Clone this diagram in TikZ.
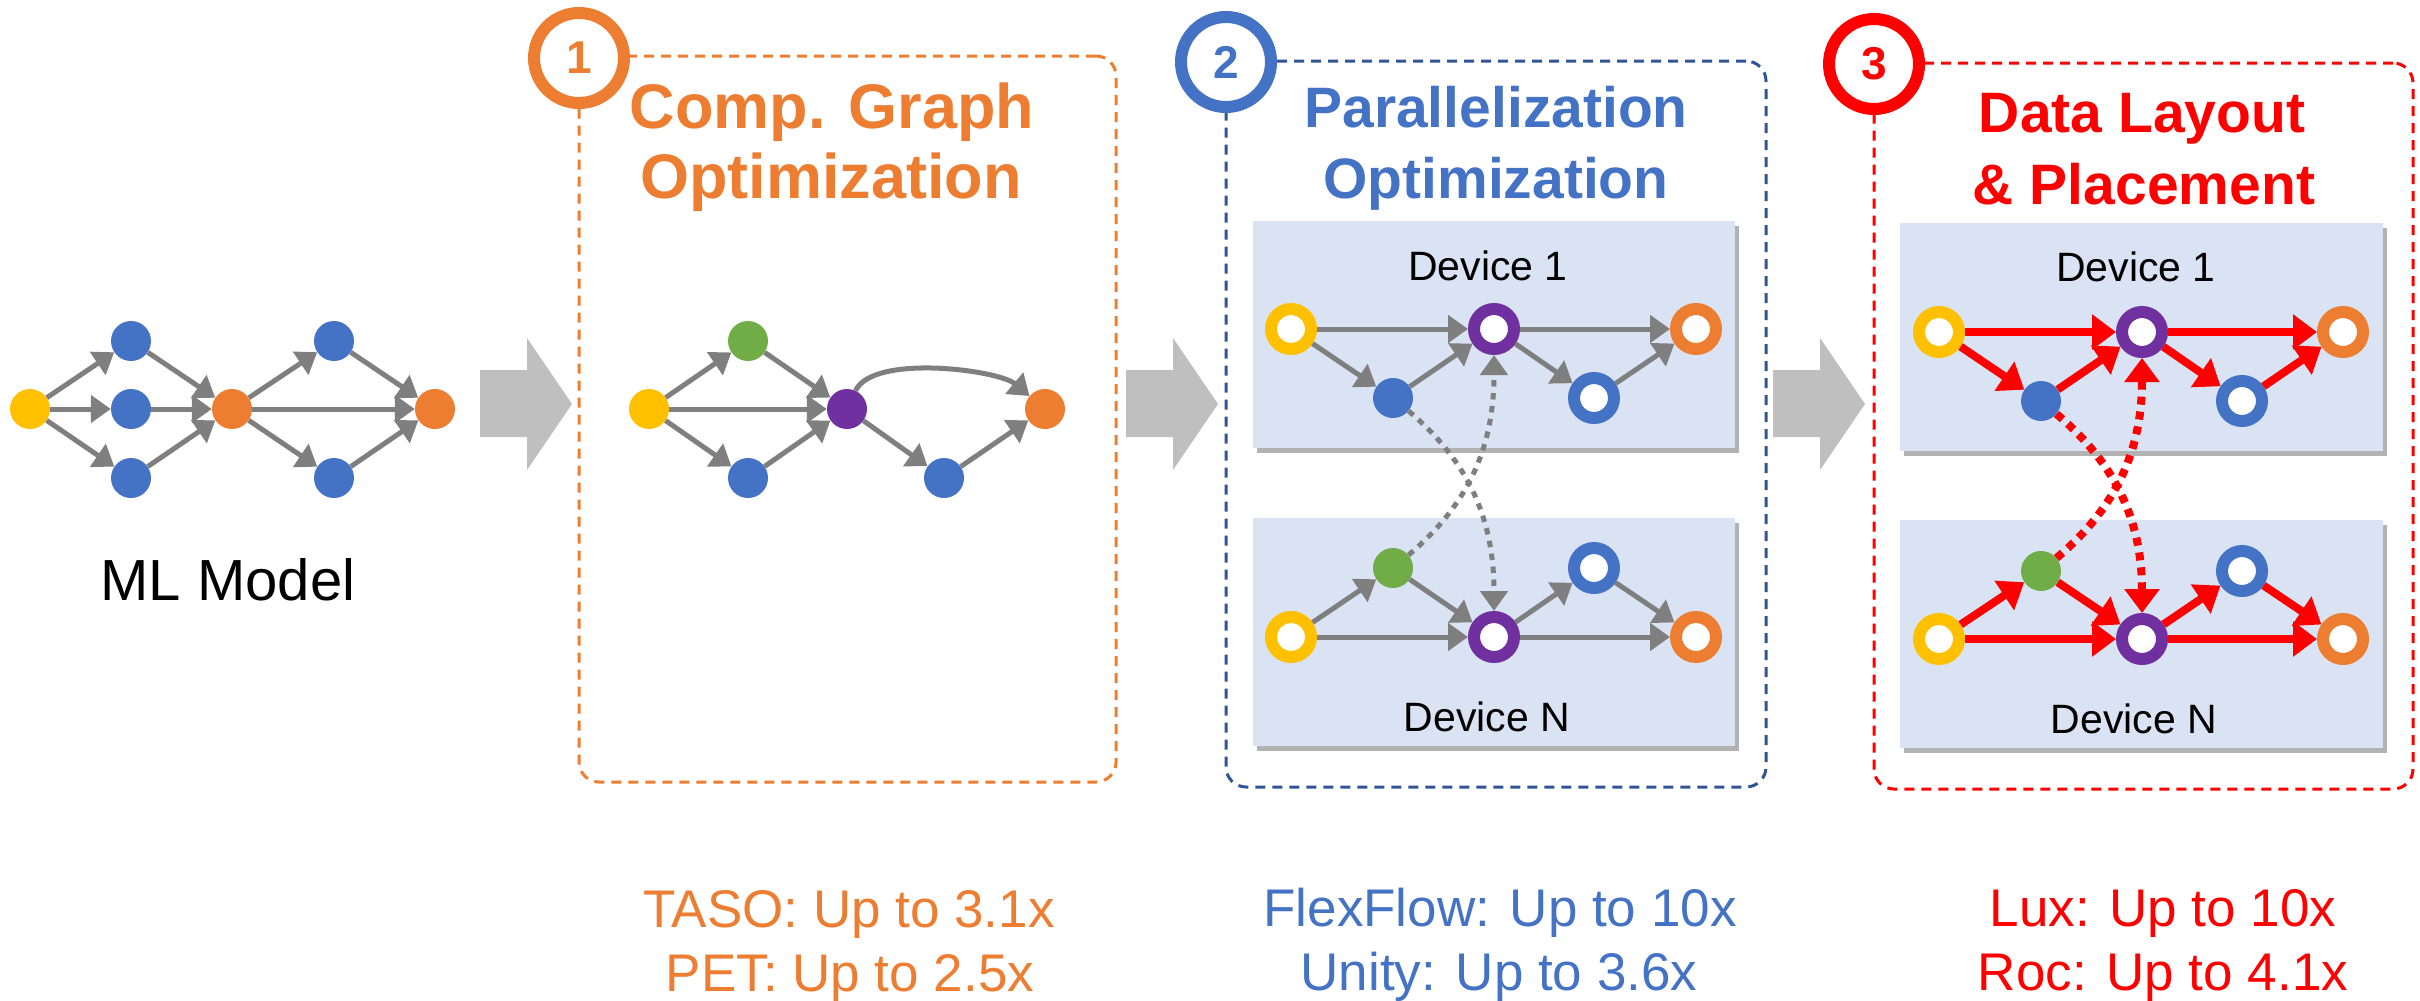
\documentclass[tikz,border=0pt]{standalone}
\usepackage{fontspec}
\setmainfont{Liberation Sans}
\usetikzlibrary{arrows.meta,shadows}
\definecolor{cOrange}{HTML}{ED7D31}
\definecolor{cBlue}{HTML}{4472C4}
\definecolor{cYellow}{HTML}{FFC000}
\definecolor{cGreen}{HTML}{70AD47}
\definecolor{cPurple}{HTML}{7030A0}
\definecolor{cGray}{HTML}{7F7F7F}
\definecolor{cLightGray}{HTML}{BFBFBF}
\definecolor{cDark}{HTML}{2F5597}
\definecolor{cDev}{HTML}{DAE3F3}
\definecolor{cRed}{HTML}{FF0000}
\newcommand\fsz[1]{\fontsize{#1}{#1}\selectfont}
\tikzset{
  solidn/.style={circle, inner sep=0pt, minimum size=40pt, fill=#1},
  ringn/.style={circle, inner sep=0pt, minimum size=40pt, draw=#1, line width=12pt, fill=white},
  garr/.style={draw=cGray, line width=5pt, -{Triangle[length=20pt,width=27pt]}},
  rarr/.style={draw=cRed, line width=8pt, -{Triangle[length=24pt,width=34pt]}},
  gdot/.style={garr, dash pattern=on 6.5pt off 6.5pt},
  rdot/.style={rarr, dash pattern=on 8pt off 7pt},
  stagebox/.style={rectangle, inner sep=0pt, rounded corners=20pt, line width=3pt, dash pattern=on 10pt off 7pt, draw=#1},
  devbox/.style={rectangle, inner sep=0pt, fill=cDev, drop shadow={shadow xshift=4pt, shadow yshift=-5pt, fill=black, opacity=0.3}},
  numcirc/.style={circle, inner sep=0pt, minimum size=90pt, line width=12pt, draw=#1, fill=white, text=#1, font=\fsz{46}\bfseries},
  bigarrow/.style={fill=cLightGray},
  lbl/.style={anchor=base, inner sep=0pt},
}
\begin{document}
\begin{tikzpicture}[x=1pt,y=1pt]
\useasboundingbox (0,0) rectangle (2420,-1001);

% stage boxes
\node[stagebox=cOrange, minimum width=537pt, minimum height=726pt] (box1) at (847.5,-419) {};
\node[stagebox=cDark, minimum width=540pt, minimum height=726pt] (box2) at (1496,-424) {};
\node[stagebox=cRed, minimum width=539pt, minimum height=726pt] (box3) at (2143.5,-426) {};

% big arrows
\fill[bigarrow] (480,-370) -- (527,-370) -- (527,-338) -- (572,-404) -- (527,-470) -- (527,-437) -- (480,-437) -- cycle;
\begin{scope}[xshift=646pt]
\fill[bigarrow] (480,-370) -- (527,-370) -- (527,-338) -- (572,-404) -- (527,-470) -- (527,-437) -- (480,-437) -- cycle;
\end{scope}
\begin{scope}[xshift=1293pt]
\fill[bigarrow] (480,-370) -- (527,-370) -- (527,-338) -- (572,-404) -- (527,-470) -- (527,-437) -- (480,-437) -- cycle;
\end{scope}

% ML model
\node[solidn=cYellow] (m0) at (30,-409) {};
\node[solidn=cBlue] (m1) at (131,-341) {};
\node[solidn=cBlue] (m2) at (131,-409) {};
\node[solidn=cBlue] (m3) at (131,-478) {};
\node[solidn=cOrange] (m4) at (232,-409) {};
\node[solidn=cBlue] (m5) at (334,-341) {};
\node[solidn=cBlue] (m6) at (334,-478) {};
\node[solidn=cOrange] (m7) at (435,-409) {};
\foreach \a/\b in {m0/m1,m0/m2,m0/m3,m1/m4,m2/m4,m3/m4,m4/m5,m4/m6,m4/m7,m5/m7,m6/m7}
  \draw[garr] (\a) -- (\b);
\node[lbl, font=\fsz{58}] (mlm) at (228,-600) {ML Model};

% Box 1 graph
\node[solidn=cYellow] (c0) at (649,-409) {};
\node[solidn=cGreen] (c1) at (748,-341) {};
\node[solidn=cBlue] (c2) at (748,-478) {};
\node[solidn=cPurple] (c3) at (847,-409) {};
\node[solidn=cBlue] (c4) at (944,-478) {};
\node[solidn=cOrange] (c5) at (1045,-409) {};
\foreach \a/\b in {c0/c1,c0/c2,c0/c3,c1/c3,c2/c3,c3/c4,c4/c5}
  \draw[garr] (\a) -- (\b);
\draw[garr] (c3) to[out=65,in=140,looseness=0.6] (c5);

% Box 2 devices
\node[devbox, minimum width=482pt, minimum height=227pt] (dev2a) at (1494,-334.5) {};
\node[devbox, minimum width=482pt, minimum height=228pt] (dev2b) at (1494,-632) {};
\node[lbl, font=\fsz{41}] (d2a) at (1488,-280) {Device 1};
\node[lbl, font=\fsz{41}] (d2b) at (1487,-731) {Device N};
\node[ringn=cYellow] (pa0) at (1291,-329) {};
\node[solidn=cBlue] (pa1) at (1393,-398) {};
\node[ringn=cPurple] (pa2) at (1494,-329) {};
\node[ringn=cBlue] (pa3) at (1594,-398) {};
\node[ringn=cOrange] (pa4) at (1696,-329) {};
\node[ringn=cYellow] (pb0) at (1291,-637) {};
\node[solidn=cGreen] (pb1) at (1393,-568) {};
\node[ringn=cPurple] (pb2) at (1494,-637) {};
\node[ringn=cBlue] (pb3) at (1594,-568) {};
\node[ringn=cOrange] (pb4) at (1696,-637) {};
\foreach \a/\b in {pa0/pa2,pa0/pa1,pa1/pa2,pa2/pa4,pa2/pa3,pa3/pa4,pb0/pb1,pb0/pb2,pb1/pb2,pb2/pb3,pb2/pb4,pb3/pb4}
  \draw[garr] (\a) -- (\b);
\draw[gdot] (pa1) to[out=-40,in=90] (pb2);
\draw[gdot] (pb1) to[out=40,in=-90] (pa2);

% Box 3 devices
\node[devbox, minimum width=483pt, minimum height=228pt] (dev3a) at (2141.5,-337) {};
\node[devbox, minimum width=483pt, minimum height=228pt] (dev3b) at (2141.5,-634) {};
\node[lbl, font=\fsz{41}] (d3a) at (2136,-281) {Device 1};
\node[lbl, font=\fsz{41}] (d3b) at (2134,-733) {Device N};
\node[ringn=cYellow] (qa0) at (1939,-332) {};
\node[solidn=cBlue] (qa1) at (2041,-401) {};
\node[ringn=cPurple] (qa2) at (2142,-332) {};
\node[ringn=cBlue] (qa3) at (2242,-401) {};
\node[ringn=cOrange] (qa4) at (2343,-332) {};
\node[ringn=cYellow] (qb0) at (1939,-639) {};
\node[solidn=cGreen] (qb1) at (2041,-571) {};
\node[ringn=cPurple] (qb2) at (2142,-639) {};
\node[ringn=cBlue] (qb3) at (2242,-571) {};
\node[ringn=cOrange] (qb4) at (2343,-639) {};
\foreach \a/\b in {qa0/qa2,qa0/qa1,qa1/qa2,qa2/qa4,qa2/qa3,qa3/qa4,qb0/qb1,qb0/qb2,qb1/qb2,qb2/qb3,qb2/qb4,qb3/qb4}
  \draw[rarr] (\a) -- (\b);
\draw[rdot] (qa1) to[out=-40,in=90] (qb2);
\draw[rdot] (qb1) to[out=40,in=-90] (qa2);

% titles
\node[lbl, font=\fsz{63}\bfseries, text=cOrange] (t1a) at (832,-128) {Comp. Graph};
\node[lbl, font=\fsz{63}\bfseries, text=cOrange] (t1b) at (831,-198) {Optimization};
\node[lbl, font=\fsz{57}\bfseries, text=cBlue] (t2a) at (1496,-127) {Parallelization};
\node[lbl, font=\fsz{57}\bfseries, text=cBlue] (t2b) at (1496,-198) {Optimization};
\node[lbl, font=\fsz{57}\bfseries, text=cRed] (t3a) at (2142,-132) {Data Layout};
\node[lbl, font=\fsz{57}\bfseries, text=cRed] (t3b) at (2144,-204) {\& Placement};

% number circles
\node[numcirc=cOrange] (n1) at (579,-58) {1};
\node[numcirc=cBlue] (n2) at (1226,-62) {2};
\node[numcirc=cRed] (n3) at (1874,-64) {3};

% bottom results
\node[lbl, font=\fsz{53}, text=cOrange] (r1a) at (849,-927) {TASO: Up to 3.1x};
\node[lbl, font=\fsz{53}, text=cOrange] (r1b) at (850,-991) {PET: Up to 2.5x};
\node[lbl, font=\fsz{53}, text=cBlue] (r2a) at (1500,-926) {FlexFlow: Up to 10x};
\node[lbl, font=\fsz{53}, text=cBlue] (r2b) at (1499,-990) {Unity: Up to 3.6x};
\node[lbl, font=\fsz{53}, text=cRed] (r3a) at (2163,-926) {Lux: Up to 10x};
\node[lbl, font=\fsz{53}, text=cRed] (r3b) at (2163,-990) {Roc: Up to 4.1x};
\end{tikzpicture}
\end{document}
